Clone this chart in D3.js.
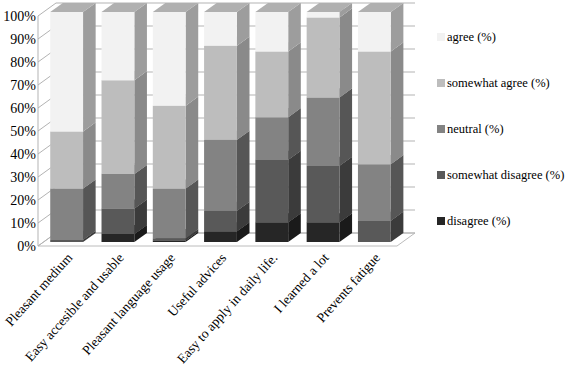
<!DOCTYPE html>
<html>
<head>
<meta charset="utf-8">
<script src="https://cdn.jsdelivr.net/npm/d3@7"></script>
<style>
  body { margin: 0; background: #fff; }
  svg text { font-family: "Liberation Serif", "Times New Roman", serif; fill: #000; }
</style>
</head>
<body>
<div id="chart"></div>
<script>
// data (percent of answers)
const categories = [
  "Pleasant medium", "Easy accesible and usable", "Pleasant language usage",
  "Useful advices", "Easy to apply in daily life.", "I learned a lot", "Prevents fatigue"
];
const disagree         = [0,    3.5,  0.7,  4.7,  8.6,  8.6,  0];
const somewhatDisagree = [1,    11.1, 1,    8.9,  27.2, 24.6, 9.3];
const neutral          = [22.3, 15.0, 21.6, 30.9, 18.5, 29.7, 24.6];
const somewhatAgree    = [24.8, 40.8, 36,   40.9, 28.6, 34.8, 49];
const agree            = [51.9, 29.6, 40.7, 14.6, 17.1, 2.3,  17.1];
const seriesNames = ["disagree (%)", "somewhat disagree (%)", "neutral (%)", "somewhat agree (%)", "agree (%)"];
const yTicks = [0, 10, 20, 30, 40, 50, 60, 70, 80, 90, 100];

// shading per series: front, side, top
const shades = [
  { front: "#262626", side: "#1a1a1a", top: "#3a3a3a" },
  { front: "#595959", side: "#3b3b3b", top: "#6a6a6a" },
  { front: "#838383", side: "#565656", top: "#9a9a9a" },
  { front: "#bdbdbd", side: "#8a8a8a", top: "#cfcfcf" },
  { front: "#f2f2f2", side: "#9d9d9d", top: "#b0b0b0" }
];

const width = 567, height = 370;
const svg = d3.select("#chart").append("svg")
  .attr("width", width).attr("height", height);

// 3d box: front plane and back plane of the walls
const DX = 18;              // depth shift in x
const wallLeft = 38, wallRight = 397;
const yFront = d3.scaleLinear().domain([0, 100]).range([246, 16]);
const yBack  = d3.scaleLinear().domain([0, 100]).range([233, 3]);
const proj = (xf, v, t) => [xf + DX * t, yFront(v) + (yBack(v) - yFront(v)) * t];
const poly = pts => "M" + pts.map(p => p.join(",")).join("L") + "Z";

const barT0 = 0.3, barT1 = 1.0; // bar depth inside the box

const x = d3.scaleBand()
  .domain(categories)
  .range([wallLeft - DX * barT0 + 3, wallRight - DX * barT0 + 3])
  .paddingInner(0.36)
  .paddingOuter(0.18);

// floor
svg.append("path")
  .attr("d", poly([proj(wallLeft, 0, 0), proj(wallRight, 0, 0), proj(wallRight, 0, 1), proj(wallLeft, 0, 1)]))
  .attr("fill", "none").attr("stroke", "#bcbcbc");

// gridlines: left wall + back wall
const grid = svg.append("g").attr("stroke", "#b3b3b3").attr("fill", "none");
yTicks.forEach(v => {
  const a = proj(wallLeft, v, 0), b = proj(wallLeft, v, 1), c = proj(wallRight, v, 1);
  grid.append("path").attr("d", `M${a}L${b}L${c}`);
});
grid.append("line")
  .attr("x1", wallLeft).attr("x2", wallLeft)
  .attr("y1", yFront(0)).attr("y2", yFront(100));

// y labels
svg.append("g").selectAll("text").data(yTicks).enter().append("text")
  .attr("x", 36).attr("y", d => yFront(d))
  .attr("dy", "0.35em").attr("text-anchor", "end")
  .style("font-size", "14px")
  .text(d => d + "%");

// stacked bars
const table = categories.map((c, i) => ({
  cat: c, s0: disagree[i], s1: somewhatDisagree[i], s2: neutral[i], s3: somewhatAgree[i], s4: agree[i]
}));
const stack = d3.stack().keys(["s0", "s1", "s2", "s3", "s4"])(table);

const bars = svg.append("g");
categories.forEach((c, i) => {
  const x0 = x(c), x1 = x(c) + x.bandwidth();
  stack.forEach((layer, k) => {
    const lo = layer[i][0], hi = layer[i][1];
    if (hi - lo <= 0) return;
    const g = bars.append("g");
    // side face
    g.append("path")
      .attr("d", poly([proj(x1, lo, barT0), proj(x1, lo, barT1), proj(x1, hi, barT1), proj(x1, hi, barT0)]))
      .attr("fill", shades[k].side);
    // front face
    g.append("path")
      .attr("d", poly([proj(x0, lo, barT0), proj(x1, lo, barT0), proj(x1, hi, barT0), proj(x0, hi, barT0)]))
      .attr("fill", shades[k].front);
    // top face
    g.append("path")
      .attr("d", poly([proj(x0, hi, barT0), proj(x1, hi, barT0), proj(x1, hi, barT1), proj(x0, hi, barT1)]))
      .attr("fill", shades[k].top);
  });
});

// x labels
svg.append("g").selectAll("text").data(categories).enter().append("text")
  .attr("transform", d => {
    const p = proj(x(d) + x.bandwidth() / 2, 0, barT0);
    return `translate(${p[0] + 3},${p[1] + 13}) rotate(-48)`;
  })
  .attr("text-anchor", "end")
  .attr("dy", "0.35em")
  .style("font-size", "13.5px")
  .text(d => d);

// legend, top to bottom: agree ... disagree
const legendY = d3.scalePoint()
  .domain(seriesNames.slice().reverse())
  .range([37, 221]);
const legend = svg.append("g");
seriesNames.forEach((name, k) => {
  const yy = legendY(name);
  legend.append("rect")
    .attr("x", 437).attr("y", yy - 4).attr("width", 8).attr("height", 8)
    .attr("fill", shades[k].front);
  legend.append("text")
    .attr("x", 447).attr("y", yy).attr("dy", "0.35em")
    .style("font-size", "12.5px")
    .text(name);
});
</script>
</body>
</html>
